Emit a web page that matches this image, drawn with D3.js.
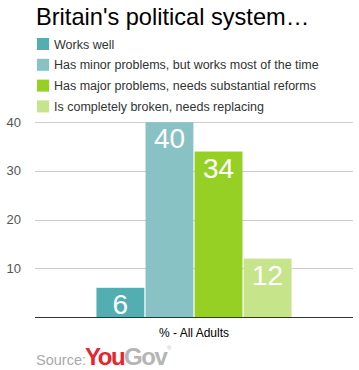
<!DOCTYPE html>
<html><head><meta charset="utf-8">
<script src="https://cdn.jsdelivr.net/npm/d3@7"></script>
<style>body{margin:0;background:#fff;}svg{display:block;font-family:"Liberation Sans",Arial,sans-serif;}</style>
</head><body>
<script>
const title = "Britain's political system…";
const categories = ["Works well","Has minor problems, but works most of the time","Has major problems, needs substantial reforms","Is completely broken, needs replacing"];
const values = [6, 40, 34, 12];
const colors = ["#52aeb1","#88c2c5","#97d025","#c6e48a"];
const yTicks = [10, 20, 30, 40];
const groupLabel = "% - All Adults";

const W = 359, H = 370;
const svg = d3.select("body").append("svg").attr("width", W).attr("height", H);
const m = {left: 35, right: 6};
const y = d3.scaleLinear().domain([0, 40]).range([317, 122.3]);
const x0 = d3.scaleBand().domain([groupLabel]).range([m.left, W - m.right]).paddingInner(0).paddingOuter(0.315);
const x1 = d3.scaleBand().domain(categories).range([0, x0.bandwidth()]).paddingInner(0.025);

svg.append("text").attr("x", 36).attr("y", 25).attr("font-size", 23.6).attr("fill", "#000").text(title);

const leg = svg.append("g");
categories.forEach((c, i) => {
  const g = leg.append("g").attr("transform", `translate(37,${38 + i * 20.8})`);
  g.append("rect").attr("width", 12).attr("height", 12).attr("fill", colors[i]);
  g.append("text").attr("x", 17).attr("y", 10.5).attr("font-size", 12.5).attr("fill", "#333").text(c);
});

const grid = svg.append("g");
grid.selectAll("line").data(yTicks).join("line")
  .attr("x1", m.left).attr("x2", W - m.right)
  .attr("y1", d => Math.round(y(d)) + 0.5).attr("y2", d => Math.round(y(d)) + 0.5)
  .attr("stroke", "#ccc").attr("stroke-width", 1);
svg.append("g").selectAll("text").data(yTicks).join("text")
  .attr("x", 21).attr("y", d => y(d) + 4.5).attr("text-anchor", "end")
  .attr("font-size", 13).attr("fill", "#555").text(d => d);

const gx = x0(groupLabel);
const bars = svg.append("g");
bars.selectAll("rect").data(values).join("rect")
  .attr("x", (d, i) => gx + x1(categories[i]))
  .attr("width", x1.bandwidth())
  .attr("y", d => y(d)).attr("height", d => y(0) - y(d))
  .attr("fill", (d, i) => colors[i]);
bars.selectAll("text").data(values).join("text")
  .attr("x", (d, i) => gx + x1(categories[i]) + x1.bandwidth() / 2)
  .attr("y", d => y(d) + 26)
  .attr("text-anchor", "middle").attr("font-size", 28).attr("fill", "#fff").text(d => d);

svg.append("line").attr("x1", m.left).attr("x2", W - m.right).attr("y1", 317.5).attr("y2", 317.5)
  .attr("stroke", "#333").attr("stroke-width", 1);
svg.append("text").attr("x", gx + x0.bandwidth() / 2).attr("y", 337).attr("text-anchor", "middle")
  .attr("font-size", 12).attr("fill", "#000").text(groupLabel);

svg.append("text").attr("x", 36).attr("y", 365).attr("font-size", 14.5).attr("fill", "#aaa").text("Source:");
const logo = svg.append("text").attr("x", 85).attr("y", 365).attr("font-size", 24).attr("font-weight", "bold").attr("letter-spacing", -1.5);
logo.append("tspan").attr("fill", "#e5262d").text("You");
logo.append("tspan").attr("fill", "#b5b5b5").text("Gov");
svg.append("text").attr("x", 167).attr("y", 350).attr("font-size", 6).attr("fill", "#bbb").text("®");
</script>
</body></html>
